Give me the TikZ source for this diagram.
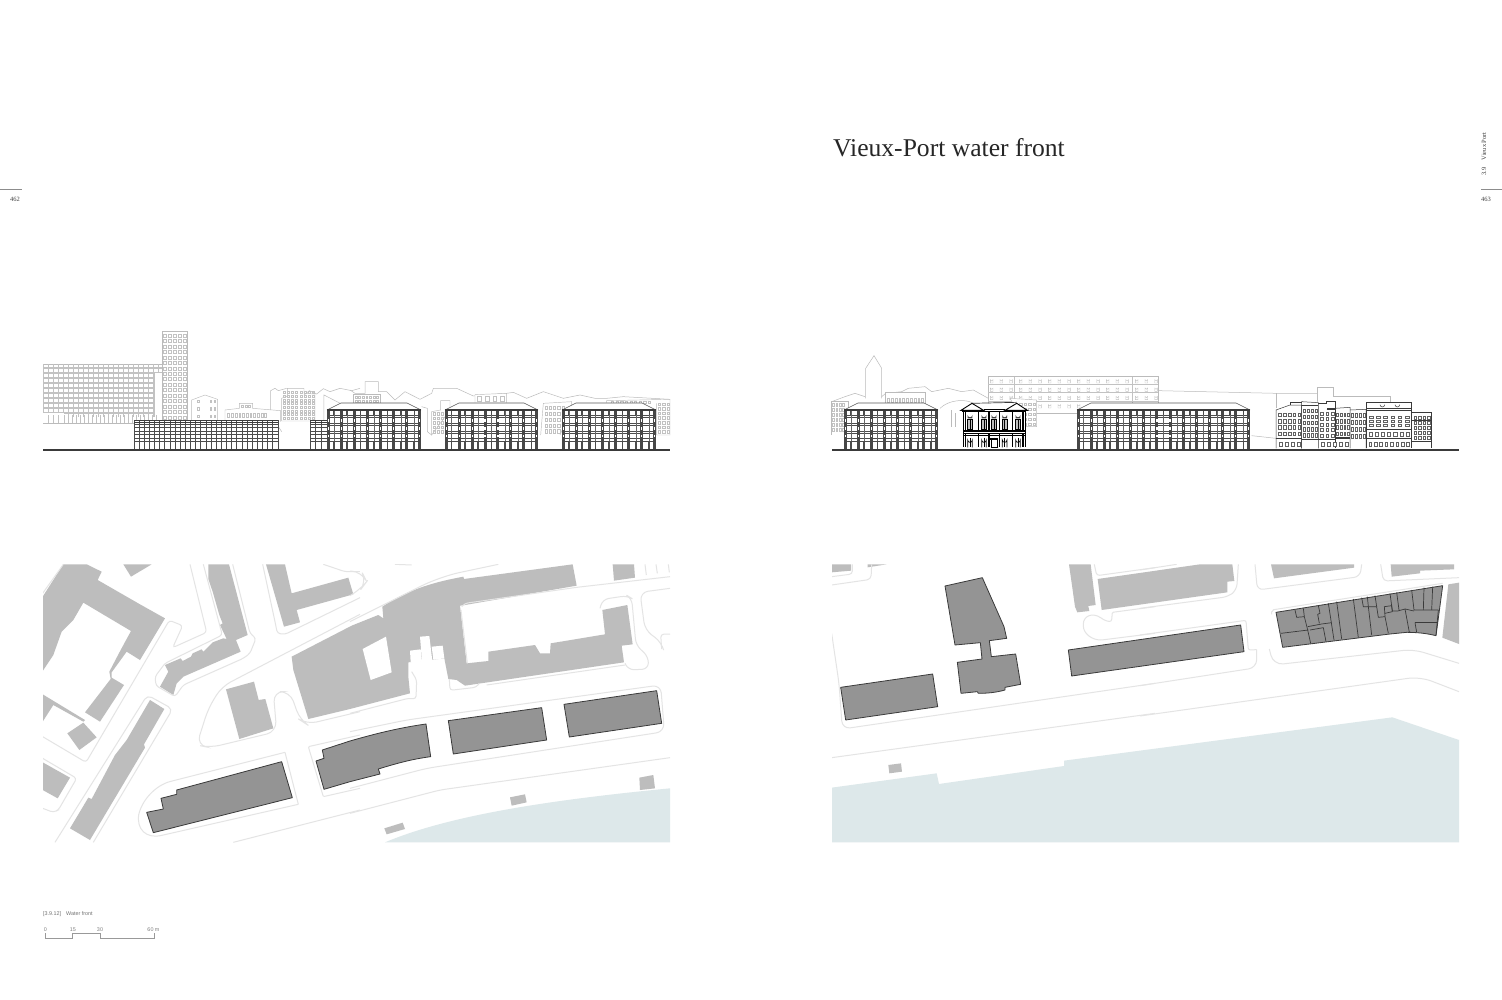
\documentclass[tikz,border=0pt]{standalone}
\usepackage{fontspec}
\setmainfont{Liberation Serif}
\newfontfamily\capfont{Liberation Sans}
\definecolor{bldg}{HTML}{BDBDBD}
\definecolor{dark}{HTML}{949494}
\definecolor{roadc}{HTML}{E4E4E4}
\definecolor{water}{HTML}{DDE8EA}
\definecolor{back}{HTML}{BBBBBB}
\definecolor{ink}{HTML}{3A3A3A}
\tikzset{
  bld/.style={fill=bldg,draw=none},
  darkb/.style={fill=dark,draw=ink,line width=0.8pt,line join=round},
  part/.style={draw=ink,line width=0.7pt},
  road/.style={draw=roadc,line width=1pt,rounded corners=3pt},
  bk/.style={draw=back,line width=0.45pt,fill=white},
  bkl/.style={draw=back,line width=0.5pt},
  win/.style={draw=black!24,line width=0.35pt},
  fwin/.style={draw=black!62,line width=0.35pt,fill=white},
  ground/.style={draw=ink,line width=1.6pt},
  z1/.style={shift={(30,320)},scale=0.33333},
  z2/.style={shift={(350,360)},scale=0.33333},
  z3/.style={shift={(825,345)},scale=0.33333},
  z4/.style={shift={(1150,370)},scale=0.33333},
  z5/.style={shift={(30,555)},scale=0.33333},
  z6/.style={shift={(350,555)},scale=0.33333},
  z7/.style={shift={(825,555)},scale=0.33333},
  z8/.style={shift={(1140,555)},scale=0.33333},
}
% x1,x2,y1,y2,nx,ny,style : a regular field of windows
\newcommand{\wingrid}[7]{%
  \pgfmathsetmacro\wdx{(#2-#1)/#5}\pgfmathsetmacro\wdy{(#4-#3)/#6}%
  \foreach \i in {1,...,#5}{\foreach \j in {1,...,#6}{%
    \draw[#7] ({#1+(\i-0.75)*\wdx},{#3+(\j-0.78)*\wdy}) rectangle ({#1+(\i-0.25)*\wdx},{#3+(\j-0.22)*\wdy});}}}
% x1,x2,bays : the large quay block with hipped roof
\newcommand{\quayblock}[3]{%
  \fill[white] (#1,410) rectangle (#2,450);
  \draw[black!65,line width=0.6pt,fill=white] (#1,410) -- ({#1+14},403) -- ({#2-14},403) -- (#2,410);
  \pgfmathsetmacro\qdx{(#2-#1)/#3}%
  \foreach \r in {415.5,417.5,423.5,425.5,431,433,438.5,441}{\draw[black!70,line width=0.7pt] (#1,\r) -- (#2,\r);}
  \foreach \i in {0,...,#3}{%
    \pgfmathsetmacro\qx{#1+\i*\qdx+(1-2*\i/#3)*1.5}%
    \draw[black!72,line width=3pt] (\qx,410) -- (\qx,450);
    \foreach \r in {419,427,434.5}{\fill[white] ({\qx-0.6},\r) rectangle ({\qx+0.6},{\r+2.5});}}
  \foreach \i in {1,...,#3}{%
    \draw[black!60,line width=0.4pt] ({#1+(\i-0.5)*\qdx},411) -- ({#1+(\i-0.5)*\qdx},441);
    \draw[black!70,line width=1.4pt] ({#1+(\i-0.5)*\qdx},410.5) -- ({#1+(\i-0.5)*\qdx},414.5);
    \draw[black!70,line width=1.6pt] ({#1+(\i-0.5)*\qdx},441) -- ({#1+(\i-0.5)*\qdx},450);}
  \draw[ink,line width=1.4pt] (#1,410) -- (#2,410);}
% x1,x2,bays : the low block
\newcommand{\lowblock}[3]{%
  \fill[white] (#1,420) rectangle (#2,450);
  \pgfmathsetmacro\qdx{(#2-#1)/#3}%
  \foreach \r in {424,427,431.5,434,438.5,441}{\draw[black!70,line width=0.7pt] (#1,\r) -- (#2,\r);}
  \foreach \i in {0,...,#3}{\draw[black!70,line width=0.8pt] ({#1+\i*\qdx},420) -- ({#1+\i*\qdx},450);}
  \draw[ink,line width=1.1pt] (#1,420.5) -- (#2,420.5);
  \draw[ink,line width=0.5pt] (#1,422.3) -- (#2,422.3);}
\begin{document}
\begin{tikzpicture}[x=1pt,y=-1pt]
\useasboundingbox (0,0) rectangle (1502,1000);
\fill[white] (0,0) rectangle (1502,1000);

% ---- page furniture
\node[anchor=base west,inner sep=0,font=\fontsize{25.6}{27}\selectfont,text=black!85] (title) at (833,157) {Vieux-Port water front};
\coordinate (ruleLa) at (0,189); \coordinate (ruleLb) at (22,189);
\coordinate (ruleRa) at (1481,189); \coordinate (ruleRb) at (1502,189);
\draw[black!45,line width=0.6pt] (ruleLa) -- (ruleLb);
\draw[black!45,line width=0.6pt] (ruleRa) -- (ruleRb);
\node[inner sep=0,font=\fontsize{6.5}{7}\selectfont,text=black!75] (pl) at (15,199) {462};
\node[inner sep=0,font=\fontsize{6.5}{7}\selectfont,text=black!75] (pr) at (1486,199) {463};
\node[inner sep=0,rotate=90,anchor=west,font=\fontsize{6.5}{7}\selectfont,text=black!75] (sec) at (1484,175.5) {3.9\hspace{7pt}Vieux Port};

% ---- caption and scale
\node[anchor=base west,inner sep=0,font=\capfont\fontsize{5.4}{6}\selectfont,text=black!55] (cap) at (43,915.5) {[3.9.12]\hspace{5pt}Water front};
\draw[black!40,line width=0.5pt] (45.3,933.3) -- (45.3,938.6) -- (72.7,938.6) -- (72.7,933.3) -- (100,933.3) -- (100,938.6) -- (154,938.6) -- (154,933.3);
\foreach \px/\t in {45.5/0,73/15,100/30,153.5/60 m}{
  \node[inner sep=0,font=\capfont\fontsize{5.4}{6}\selectfont,text=black!50] at (\px,930) {\t};}

% ---- LEFT ELEVATION: background
\begin{scope}
\draw[bk] (43,364) rectangle (163,423);
\foreach \x in {43,48,...,163}{\draw[win] (\x,364) -- (\x,423);}
\foreach \y in {367,372,377,382,387,392,397,402,407,412,417}{\draw[win] (43,\y) -- (163,\y); \draw[win] (43,{\y+1.3}) -- (163,{\y+1.3});}
\fill[white] (154,373) rectangle (162,420);
\draw[win] (154,373) -- (154,420);
\fill[white] (43,413) rectangle (64,423);\fill[white] (64,417) rectangle (160,423);
\foreach \x in {48,53,58,64,68,...,156}{\draw[win] (\x,415) -- (\x,423);}
\draw[bk] (162.3,331) rectangle (187,420);
\wingrid{162.5}{187}{333}{420}{5}{16}{win,line width=0.5pt}
\end{scope}
\begin{scope}[z1]
\draw[bk] (485,305) -- (485,240) -- (525,225) -- (563,238) -- (563,305);
\foreach \y in {240,262,285}{\draw[win] (502,\y) rectangle (507,{\y+8});\draw[win] (540,\y) rectangle (545,{\y+8});\draw[win] (552,\y) rectangle (557,{\y+8});}
\draw[bk] (585,305) -- (585,270) -- (628,265) -- (628,250) -- (668,250) -- (668,265) -- (752,272) -- (752,305);
\wingrid{590}{712}{275}{298}{11}{1}{win}
\wingrid{632}{664}{254}{263}{3}{1}{win}
\draw[bkl] (722,270) -- (722,212) -- (735,205) -- (745,212) -- (770,205);
\draw[bkl] (745,320) -- (755,335);
\draw[bk] (755,303) -- (755,235) -- (772,228) -- (772,205) -- (822,205) -- (822,220) -- (855,222) -- (855,303) -- cycle;
\wingrid{757}{855}{212}{300}{8}{8}{win}
\draw[bkl] (822,225) -- (838,212) -- (860,222) -- (880,206) -- (900,215) -- (930,205) -- (965,212) -- (990,205);
\draw[bkl] (882,300) -- (882,225) -- (950,260);
\end{scope}
\begin{scope}[z2]
\draw[bkl] (0,90) -- (15,100) -- (45,100) -- (45,65) -- (85,65) -- (85,95) -- (110,95) -- (135,120) -- (165,95) -- (210,118) -- (245,100) -- (250,85) -- (320,85) -- (370,108) -- (470,100) -- (490,97) -- (530,115) -- (580,95) -- (640,115) -- (690,105) -- (735,115) -- (770,115) -- (820,110) -- (960,118);
\draw[bk] (10,130) -- (10,102) -- (90,102) -- (90,130);
\wingrid{12}{88}{106}{130}{7}{2}{win}
\draw[bk] (245,225) -- (245,155) -- (272,150) -- (272,122) -- (300,122) -- (300,150) -- (245,225) -- cycle;
\wingrid{246}{284}{155}{222}{3}{5}{win}
\draw[bkl] (215,140) -- (232,145) -- (232,215) -- (245,225);
\draw[bk] (375,128) -- (375,104) -- (470,100) -- (470,128);
\wingrid{377}{468}{104}{128}{4}{1}{win}
\draw[bk] (572,225) -- (580,130) -- (665,125) -- (665,145) -- (630,225);
\wingrid{582}{645}{135}{222}{5}{5}{win}
\draw[bk] (770,128) -- (770,122) -- (960,118) -- (960,225) -- (920,225) -- (920,130);
\wingrid{780}{905}{122}{130}{9}{1}{win}
\wingrid{922}{960}{125}{222}{3}{7}{win}
\end{scope}

% ---- LEFT ELEVATION: foreground
\lowblock{134}{278}{28}
\lowblock{310}{327}{3}
\quayblock{327}{421}{7}
\quayblock{445}{538}{7}
\quayblock{562}{656}{7}
\draw[ground] (43,450) -- (670,450);

% ---- RIGHT ELEVATION: background
\begin{scope}[z3]
\draw[bkl] (122,160) -- (122,70) -- (147,32) -- (170,70) -- (170,160);
\draw[bkl] (20,170) -- (60,155) -- (90,145) -- (120,155);
\draw[bkl] (170,155) -- (182,145) -- (230,140) -- (250,130) -- (300,125) -- (320,140) -- (370,130) -- (410,140) -- (445,135) -- (490,160);
\draw[bk] (20,270) -- (20,170) -- (70,170) -- (70,270);
\wingrid{20}{60}{172}{262}{4}{6}{win}
\draw[bk] (182,178) -- (182,143) -- (300,143) -- (300,178);
\wingrid{184}{298}{155}{176}{10}{1}{win}
\draw[bkl] (345,190) .. controls (370,165) and (420,160) .. (445,175);
\draw[bkl] (378,245) -- (378,195); \draw[bkl] (390,245) -- (390,205);
\draw[bk] (490,205) -- (490,95) -- (999,95) -- (999,205) -- cycle;
\foreach \y in {100,125,150,175}{
 \foreach \x in {496,525,...,990}{\draw[win] (\x,{\y+14}) -- (\x,{\y+4}) arc[start angle=180,end angle=0,radius=4] -- ({\x+8},{\y+14}) -- cycle;}}
\draw[win] (490,118) -- (999,118); \draw[win] (490,143) -- (999,143); \draw[win] (490,168) -- (999,168);
\draw[win] (568,95) -- (568,205); \draw[win] (922,95) -- (922,205);
\draw[bk] (555,160) -- (635,165) -- (635,245) -- (605,245) -- (555,160);
\wingrid{580}{635}{170}{245}{4}{5}{win}
\end{scope}
\begin{scope}[z4]
\draw[bkl] (25,62) -- (380,70) -- (502,70);
\draw[bkl] (380,70) -- (380,115);
\draw[bkl] (502,98) -- (502,52) -- (550,52) -- (550,80) -- (720,80) -- (720,95);
\draw[bkl] (305,197) -- (378,205);
\end{scope}

% ---- RIGHT ELEVATION: foreground
\quayblock{844}{938}{7}
\quayblock{1077}{1250}{13}
% palazzo
\begin{scope}[z3]
\fill[white] (415,307) -- (415,195) -- (440,175) -- (575,175) -- (600,195) -- (600,307) -- cycle;
\draw[ink,line width=0.7pt] (440,175) -- (575,172);
\draw[black,line width=0.9pt,fill=white] (408,196) -- (441,175) -- (476,196) -- cycle;
\draw[black,line width=0.9pt,fill=white] (540,196) -- (575,175) -- (607,196) -- cycle;
\draw[black,line width=0.7pt] (476,192) -- (540,192);
\draw[black,line width=1pt] (412,200) -- (602,200);
\foreach \x in {428,470,500,532,572}{
  \fill[black!75] (\x,220) -- (\x,210) arc[start angle=180,end angle=0,radius=7] -- ({\x+14},220) -- cycle;
  \draw[black,line width=0.9pt,fill=black!25] (\x,252) rectangle ({\x+14},224);
  \draw[black,line width=0.4pt] ({\x+7},224) -- ({\x+7},252);
  \draw[black,line width=0.7pt,fill=white] (\x,307) -- (\x,285) arc[start angle=180,end angle=0,radius=7] -- ({\x+14},307);
  \draw[black,line width=0.4pt] ({\x+7},278) -- ({\x+7},307);}
\draw[black,line width=1.1pt] (415,258) -- (600,258);
\draw[black,line width=0.7pt] (415,264) -- (600,264);
\draw[black,line width=0.5pt] (415,270) -- (600,270);
\draw[black,line width=0.6pt] (415,200) -- (415,307); \draw[black,line width=0.6pt] (600,200) -- (600,307);
\foreach \x in {421,461,492,524,563,594}{\draw[black,line width=1.1pt] (\x,202) -- (\x,258);\draw[black,line width=1.1pt] (\x,268) -- (\x,305);}
\fill[black] (496,278) rectangle (520,284);
\draw[black,line width=1pt,fill=white] (498,307) rectangle (518,284);
\end{scope}
% street of houses
\begin{scope}[z4]
\fill[white] (378,235) -- (378,120) -- (420,105) -- (505,95) -- (555,95) -- (555,112) -- (648,112) -- (648,98) -- (785,98) -- (785,128) -- (845,128) -- (845,235) -- cycle;
\begin{scope}[every path/.append style={draw=ink,line width=0.5pt}]
\draw (378,235) -- (378,120) -- (420,105) -- (455,105) -- (455,235);
\draw (420,105) -- (420,98) -- (455,98);
\draw (455,235) -- (455,95) -- (505,98) -- (505,235);
\draw (505,100) -- (530,100) -- (530,95) -- (555,95) -- (555,235);
\draw (555,115) -- (600,112) -- (600,235);
\draw (600,120) -- (648,118) -- (648,235);
\draw (648,235) -- (648,98) -- (785,98) -- (785,235);
\draw (785,128) -- (845,128) -- (845,235);
\draw (648,122) -- (785,122); \draw (648,115) -- (785,115);\draw (455,105) -- (505,105);\draw (530,118) -- (555,118);
\draw (648,178) -- (785,178);\draw (648,205) -- (785,205);
\draw (378,205) -- (455,205);\draw (455,208) -- (555,208);\draw (555,205) -- (600,205);
\draw (785,150) -- (845,150);\draw (785,215) -- (845,215);
\end{scope}
\wingrid{382}{455}{125}{200}{5}{4}{fwin}
\wingrid{458}{505}{112}{205}{4}{5}{fwin}
\wingrid{507}{555}{122}{205}{3}{5}{fwin}
\wingrid{557}{600}{125}{200}{4}{4}{fwin}
\wingrid{602}{648}{125}{210}{4}{4}{fwin}
\wingrid{652}{782}{135}{172}{6}{3}{fwin}
\wingrid{652}{782}{182}{202}{7}{1}{fwin}
\wingrid{652}{782}{212}{235}{8}{1}{fwin}
\wingrid{788}{843}{135}{210}{4}{5}{fwin}
\wingrid{382}{455}{210}{235}{4}{1}{fwin}
\wingrid{508}{600}{212}{235}{5}{1}{fwin}
\foreach \x in {690,735}{\draw[ink,line width=0.5pt] (\x,104) arc[start angle=180,end angle=0,radius=7];}
\fill[ink] (455,207) rectangle (505,210);\fill[ink] (530,115) rectangle (555,118);\fill[ink] (558,200) rectangle (600,203);
\end{scope}
\draw[ground] (832,450) -- (1459,450);

% ---- LEFT PLAN
\begin{scope}
\clip (43,564) rectangle (670,843);
\begin{scope}[z5]
\fill[bldg] (38,125) -- (100,28) -- (170,28) -- (215,50) -- (203,75) -- (330,148) -- (405,190) -- (330,315) -- (290,290) -- (245,352) -- (245,368) -- (282,390) -- (210,500) -- (165,472) -- (242,372) -- (238,350) -- (272,285) -- (303,228) -- (160,143) -- (130,195) -- (95,230) -- (70,300) -- (38,348) -- cycle;
\fill[bldg] (38,418) -- (165,495) -- (160,500) -- (70,450) -- (38,500) -- cycle;
\fill[bldg] (112,535) -- (160,503) -- (200,547) -- (148,585) -- cycle;
\fill[bldg] (38,622) -- (120,668) -- (83,730) -- (38,705) -- cycle;
\fill[bldg] (280,28) -- (365,28) -- (303,65) -- cycle;
\fill[bldg] (360,435) -- (403,462) -- (342,568) -- (345,578) -- (180,855) -- (120,820) -- (175,728) -- (185,732) -- (255,600) -- (290,555) -- cycle;
\fill[bldg] (535,28) -- (597,28) -- (653,240) -- (618,255) -- (632,290) -- (460,365) -- (440,385) -- (430,420) -- (390,395) -- (415,350) -- (405,330) -- (452,310) -- (458,318) -- (483,305) -- (488,295) -- (515,283) -- (520,290) -- (548,262) -- (580,250) -- (590,252) -- (570,210) -- (578,205) -- (568,180) -- (548,110) -- (535,72) -- cycle;
\fill[bldg] (708,28) -- (765,28) -- (785,115) -- (955,68) -- (970,118) -- (800,165) -- (810,202) -- (762,215) -- cycle;
\fill[bldg] (588,403) -- (672,380) -- (686,435) -- (706,432) -- (730,520) -- (628,552) -- cycle;
% roads
\draw[road] (100,28) -- (38,115);
\draw[road] (480,28) -- (530,232) -- (428,278) -- (458,212) -- (418,196) -- (168,622) -- (38,545);
\draw[road] (38,610) -- (140,670) -- (85,765) -- (70,772) -- (38,760);
\draw[road] (520,28) -- (577,240) -- (405,325) -- (375,365) -- (378,392) -- (435,425) -- (460,390) -- (640,310) -- (660,295) -- (678,250) -- (660,235) -- (608,28);
\draw[road,rounded corners=5pt] (75,862) -- (352,420) -- (428,462) -- (190,862);
\draw[road] (698,28) -- (735,200) -- (742,235) -- (765,238) -- (990,128);
\draw[road] (880,28) -- (945,50) -- (990,50);
\draw[road,rounded corners=10pt] (990,178) -- (575,395) -- (535,460) -- (500,570) -- (540,578) -- (740,530) -- (730,410) -- (780,410) -- (810,495) -- (830,508) -- (990,470);
\draw[road,rounded corners=1pt] (990,540) -- (835,575) -- (880,725) -- (990,700);
\draw[road,rounded corners=28pt] (765,592) -- (340,700) -- (312,860) -- (805,748);
\draw[road,rounded corners=0pt] (765,592) -- (805,748);
\draw[road] (610,862) -- (990,765);
\draw[darkb] (350,772) -- (400,762) -- (393,730) -- (440,718) -- (440,705) -- (755,620) -- (787,728) -- (370,833) -- cycle;
\end{scope}
\begin{scope}[z6]
\fill[bldg] (-175,305) -- (5,212) -- (85,180) -- (100,190) -- (97,155) .. controls (180,100) and (260,80) .. (340,65) -- (342,72) -- (668,28) -- (680,92) -- (345,150) -- (330,152) -- (350,325) -- (415,318) -- (415,290) -- (555,270) -- (570,295) -- (600,295) -- (602,265) -- (765,238) -- (757,165) -- (832,150) -- (848,268) -- (815,272) -- (822,322) -- (345,392) -- (320,375) -- (295,372) -- (283,310) -- (175,322) -- (175,365) -- (180,415) -- (0,462) -- (-125,492) -- (-170,345) -- cycle;
\fill[white] (38,282) -- (108,245) -- (125,352) -- (62,375) -- cycle;
\fill[white] (180,287) -- (212,283) -- (216,320) -- (182,322) -- cycle;
\fill[white] (210,245) -- (238,243) -- (247,318) -- (216,320) -- cycle;
\fill[white] (245,275) -- (278,272) -- (283,310) -- (250,314) -- cycle;
\fill[bldg] (788,28) -- (852,28) -- (855,68) -- (792,77) -- cycle;
% roads
\draw[road] (135,28) -- (185,30);
\draw[road,rounded corners=10pt] (0,48) -- (35,50) -- (50,80) -- (35,100) -- (0,122);
\draw[road,rounded corners=20pt] (0,200) -- (270,65) -- (445,28);
\draw[road] (335,155) -- (345,145) -- (680,97) -- (960,65);
\draw[road] (333,165) -- (352,325);
\draw[road,rounded corners=6pt] (750,160) -- (758,133) -- (832,122) -- (845,130) -- (858,270) -- (895,305) -- (895,342) -- (835,345) -- (825,325);
\draw[road,rounded corners=8pt] (960,100) -- (870,112) -- (885,225) -- (935,262) -- (940,282);
\draw[road] (935,282) -- (932,238) -- (960,237);
\draw[road] (0,475) -- (175,430) -- (198,432) -- (200,375) -- (185,350);
\draw[road] (298,372) -- (300,406) -- (378,397) -- (388,385);
\draw[road] (410,390) -- (825,330);
\draw[road,rounded corners=8pt] (0,530) -- (170,495) -- (932,390) -- (943,530) -- (230,640) -- (0,700);
\draw[road,rounded corners=6pt] (0,775) -- (270,705) -- (960,608);
\draw[road,rounded corners=0pt] (885,28) -- (889,60);\draw[road,rounded corners=0pt] (918,28) -- (922,55);\draw[road,rounded corners=0pt] (955,28) -- (958,52);
% water and kiosks
\fill[water] (105,862) .. controls (300,780) and (600,735) .. (960,700) -- (960,862) -- cycle;
\fill[bldg] (103,820) -- (158,803) -- (165,822) -- (110,838) -- cycle;
\fill[bldg] (480,727) -- (525,718) -- (530,742) -- (485,752) -- cycle;
\fill[bldg] (868,668) -- (910,660) -- (915,700) -- (870,705) -- cycle;
% grey quay blocks
\draw[darkb] (-102,618) -- (-78,610) -- (-83,585) -- (0,558) .. controls (80,535) and (150,518) .. (228,507) -- (242,605) .. controls (190,612) and (150,622) .. (85,642) -- (90,657) -- (0,680) -- (-78,703) -- cycle;
\draw[darkb] (295,497) -- (575,458) -- (590,555) -- (310,597) -- cycle;
\draw[darkb] (642,448) -- (920,407) -- (935,505) -- (658,546) -- cycle;
\end{scope}
\end{scope}

% ---- RIGHT PLAN
\begin{scope}
\clip (832,564) rectangle (1459,843);
\begin{scope}[z7]
\fill[water] (20,698) -- (335,655) -- (342,687) -- (717,633) -- (717,617) -- (1702,487) -- (1902,555) -- (1902,862) -- (20,862) -- cycle;
\fill[bldg] (20,28) -- (78,28) -- (78,47) -- (20,52) -- cycle;
\fill[bldg] (128,28) -- (185,28) -- (128,37) -- cycle;
\fill[bldg] (732,28) -- (797,28) -- (812,150) -- (790,153) -- (793,168) -- (757,172) -- (750,155) -- cycle;
\fill[bldg] (190,630) -- (228,625) -- (231,650) -- (193,655) -- cycle;
\draw[road] (20,65) -- (82,57) -- (82,28);
\draw[road,rounded corners=4pt] (20,90) -- (138,73) -- (140,28);
\draw[road] (808,28) -- (815,62) -- (990,38);
\draw[road,rounded corners=1pt] (990,155) -- (862,172) -- (860,195) .. controls (855,202) and (840,197) .. (830,190) .. controls (800,170) and (775,185) .. (775,210) .. controls (775,235) and (800,255) .. (830,255) -- (990,235);
\draw[road,rounded corners=8pt] (20,235) -- (42,385) -- (52,522) -- (990,385);
\draw[road,rounded corners=0pt] (20,608) -- (990,475);
\draw[darkb] (47,397) -- (323,357) -- (338,455) -- (62,495) -- cycle;
\draw[darkb] (360,93) -- (472,68) -- (537,215) -- (545,250) -- (493,257) -- (499,305) -- (572,297) -- (587,388) -- (540,397) -- (540,405) .. controls (515,412) and (490,415) .. (460,415) -- (457,410) -- (408,415) -- (397,322) -- (471,312) -- (466,263) -- (390,270) -- cycle;
\end{scope}
\begin{scope}[z8]
\fill[bldg] (-127,72) -- (180,28) -- (277,28) -- (283,78) -- (262,80) -- (262,112) -- (-115,165) -- cycle;
\fill[bldg] (393,28) -- (642,28) -- (642,38) -- (402,70) -- cycle;
\fill[bldg] (752,28) -- (942,28) -- (942,43) -- (840,47) -- (840,55) -- (755,65) -- cycle;
\fill[bldg] (925,88) -- (957,83) -- (957,267) -- (907,248) -- cycle;
\draw[road] (0,45) -- (110,28);
\draw[road,rounded corners=6pt] (0,160) -- (265,125) -- (290,105) -- (295,28);
\draw[road,rounded corners=6pt] (345,28) -- (352,105) -- (660,65) -- (665,28);
\draw[road,rounded corners=4pt] (722,28) -- (730,78) -- (957,68);
\draw[road,rounded corners=2pt] (0,240) -- (318,196) -- (325,285) -- (350,284);
\draw[road,rounded corners=8pt] (350,284) -- (350,338) -- (0,392);
\draw[road,rounded corners=12pt] (0,483) -- (840,365) -- (957,410);
\draw[road,rounded corners=2pt] (395,178) -- (395,165) -- (908,85);
\draw[road,rounded corners=10pt] (388,282) -- (400,330) -- (820,283) -- (957,325);
\draw[darkb] (-215,285) -- (302,210) -- (312,290) -- (-205,363) -- cycle;
\draw[darkb] (408,172) -- (908,92) -- (888,242) .. controls (860,235) and (830,232) .. (800,232) -- (750,237) -- (428,277) -- cycle;
\draw[part] (423,235) -- (505,225);
\draw[part] (465,165) -- (470,187) -- (493,185) -- (490,160);
\draw[part] (493,185) -- (503,225) -- (512,265);
\draw[part] (503,215) -- (545,207) -- (575,203);
\draw[part] (510,225) -- (550,218) -- (558,260);
\draw[part] (535,152) -- (540,175) -- (533,178) -- (538,205);
\draw[part] (565,145) -- (582,255);
\draw[part] (590,140) -- (605,252);
\draw[part] (640,132) -- (655,248);
\draw[part] (665,128) -- (670,155) -- (685,155) -- (682,125);
\draw[part] (685,155) -- (710,155) -- (715,187) -- (735,185);
\draw[part] (685,155) -- (695,240);
\draw[part] (705,122) -- (710,155);
\draw[part] (735,185) -- (733,155) -- (755,152) -- (757,170) -- (735,175);
\draw[part] (735,185) -- (745,235);
\draw[part] (750,115) -- (757,168) -- (773,168) -- (795,162) -- (808,232);
\draw[part] (770,112) -- (777,165);
\draw[part] (815,105) -- (822,165) -- (895,165);
\draw[part] (795,162) -- (822,168);
\draw[part] (852,98) -- (850,165);
\draw[part] (878,95) -- (875,165);
\draw[part] (895,165) -- (888,240);
\draw[part] (825,203) -- (893,203);
\draw[part] (825,203) -- (830,232);
\end{scope}
\end{scope}
\end{tikzpicture}
\end{document}
